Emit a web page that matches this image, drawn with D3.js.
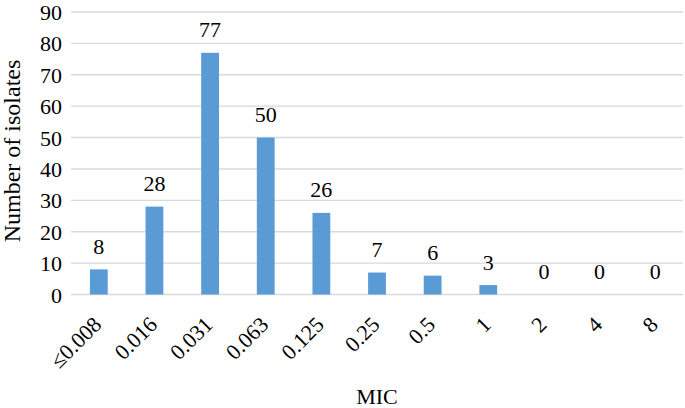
<!DOCTYPE html>
<html>
<head>
<meta charset="utf-8">
<script src="https://cdn.jsdelivr.net/npm/d3@7"></script>
</head>
<body style="margin:0">
<svg id="s" width="685" height="408"></svg>
<script>
const categories = ["\u22640.008","0.016","0.031","0.063","0.125","0.25","0.5","1","2","4","8"];
const counts = [8,28,77,50,26,7,6,3,0,0,0];
const yTicks = [0,10,20,30,40,50,60,70,80,90];
const xTitle = "MIC";
const yTitle = "Number of isolates";

const svg = d3.select("#s");
const W = 685, H = 408;
const m = {left:71, right:2, top:12, bottom:113.5};
const x = d3.scaleBand().domain(categories).range([m.left, W - m.right]).paddingInner(0.68).paddingOuter(0.34);
const y = d3.scaleLinear().domain([0,90]).range([H - m.bottom, m.top]);
const fontOf = d => "Times New Roman";

svg.append("g").selectAll("line").data(yTicks).join("line")
  .attr("x1", m.left).attr("x2", W - m.right)
  .attr("y1", d => y(d)).attr("y2", d => y(d))
  .attr("stroke", "#d9d9d9").attr("stroke-width", 1.4);

svg.append("g").selectAll("text").data(yTicks).join("text")
  .attr("x", 62).attr("y", d => y(d) + 8)
  .attr("text-anchor", "end").attr("font-size", 22).attr("font-family", fontOf)
  .text(d => d);

svg.append("g").selectAll("rect").data(counts).join("rect")
  .attr("x", (d,i) => x(categories[i]))
  .attr("width", x.bandwidth())
  .attr("y", d => y(d))
  .attr("height", d => y(0) - y(d))
  .attr("fill", "#5b9bd5");

svg.append("g").selectAll("text").data(counts).join("text")
  .attr("x", (d,i) => x(categories[i]) + x.bandwidth()/2)
  .attr("y", d => y(d) - 15.5)
  .attr("text-anchor", "middle").attr("font-size", 22).attr("font-family", fontOf)
  .text(d => d);

svg.append("g").selectAll("text").data(categories).join("text")
  .attr("transform", d => `translate(${x(d) + x.bandwidth()/2 + 4},326) rotate(-45)`)
  .attr("text-anchor", "end").attr("font-size", 22).attr("font-family", fontOf)
  .text(d => d);

svg.append("g").selectAll("text").data([xTitle]).join("text")
  .attr("x", 377).attr("y", 404).attr("font-family", fontOf)
  .attr("text-anchor", "middle").attr("font-size", 22).text(d => d);
svg.append("g").selectAll("text").data([yTitle]).join("text")
  .attr("transform", "translate(20,151) rotate(-90)").attr("font-family", fontOf)
  .attr("text-anchor", "middle").attr("font-size", 24).text(d => d);
</script>
</body>
</html>
